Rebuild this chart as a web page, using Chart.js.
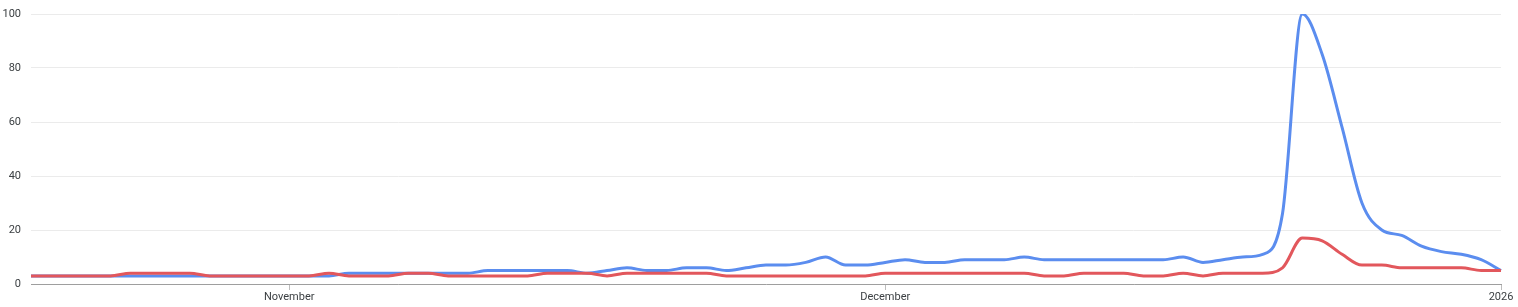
<!DOCTYPE html>
<html>
<head>
<meta charset="utf-8">
<script src="https://cdn.jsdelivr.net/npm/chart.js@4"></script>
<style>
    html, body { margin: 0; padding: 0; background: #fff; }
    #wrap { width: 1518px; height: 307px; }
</style>
</head>
<body>
<div id="wrap"><canvas id="chart"></canvas></div>
<script>
// Data (daily, Oct 19 -> Jan 1)

const startDate = new Date(2025, 9, 19);
const dayCount = 75;

const tickIndex = [13, 43, 74];
const tickLabels = ['November', 'December', '2026'];

const blueValues = [
    3, 3, 3, 3, 3, 3, 3, 3, 3, 3, 3, 3, 3, 3, 3, 3,
    4, 4, 4, 4, 4, 4, 4,
    5, 5, 5, 5, 5,
    4, 5, 6, 5, 5, 6, 6, 5, 6, 7, 7, 8, 10, 7, 7,
    8, 9, 8, 8, 9, 9, 9, 10,
    9, 9, 9, 9, 9, 9, 9,
    10, 8, 9, 10, 11, 26, 100, 85, 58, 30, 20, 18, 14, 12, 11, 9, 5
];

const redValues = [
    3, 3, 3, 3, 3,
    4, 4, 4, 4,
    3, 3, 3, 3, 3, 3,
    4, 3, 3, 3, 4, 4,
    3, 3, 3, 3, 3,
    4, 4, 4, 3,
    4, 4, 4, 4, 4,
    3, 3, 3, 3, 3, 3, 3, 3,
    4, 4, 4, 4, 4, 4, 4, 4,
    3, 3, 4, 4, 4, 3, 3, 4, 3, 4, 4, 4,
    6, 17, 16, 11, 7, 7, 6, 6, 6, 6, 5, 5
];

const categories = Array.from({ length: dayCount }, (_, i) => {
    let d = new Date(startDate);
    d.setDate(d.getDate() + i);
    return d.toDateString();
});

// Chart

const tickFont = { family: 'Roboto, "Noto Sans", sans-serif', size: 11 };

let config = {
    type: 'line',
    data: {
        labels: categories,
        datasets: [
            {
                label: 'blue',
                data: blueValues,
                borderColor: '#5b8def',
                borderWidth: 3,
                pointRadius: 0,
                fill: false,
                cubicInterpolationMode: 'monotone',
                order: 1
            },
            {
                label: 'red',
                data: redValues,
                borderColor: '#e2575c',
                borderWidth: 3,
                pointRadius: 0,
                fill: false,
                cubicInterpolationMode: 'monotone',
                order: 0
            }
        ]
    },
    options: {
        responsive: true,
        maintainAspectRatio: false,
        animation: false,
        layout: { padding: { top: 14, right: 17, left: 0, bottom: 0 } },
        plugins: {
            legend: { display: false },
            tooltip: { enabled: false }
        },
        scales: {
            x: {
                type: 'category',
                afterFit: s => {
                    s.height = 23;
                    s.paddingLeft = 0;
                    s.paddingRight = 0;
                },
                border: { display: true, color: '#9e9e9e', width: 1 },
                grid: {
                    drawOnChartArea: false,
                    drawTicks: true,
                    tickLength: 6,
                    color: '#bdbdbd'
                },
                ticks: {
                    autoSkip: false,
                    maxRotation: 0,
                    padding: 1,
                    color: '#3c4043',
                    font: tickFont,
                    callback: (val, idx) => {
                        let k = tickIndex.indexOf(idx);
                        return k >= 0 ? tickLabels[k] : null;
                    }
                }
            },
            y: {
                min: 0,
                max: 100,
                afterFit: s => {
                    s.width = 31;
                    s.paddingTop = 0;
                    s.paddingBottom = 0;
                },
                border: { display: false },
                grid: { color: '#ebebeb', drawTicks: false },
                ticks: {
                    stepSize: 20,
                    padding: 10,
                    color: '#3c4043',
                    font: tickFont
                }
            }
        }
    }
};

new Chart(document.getElementById('chart').getContext('2d'), config);
</script>
</body>
</html>
